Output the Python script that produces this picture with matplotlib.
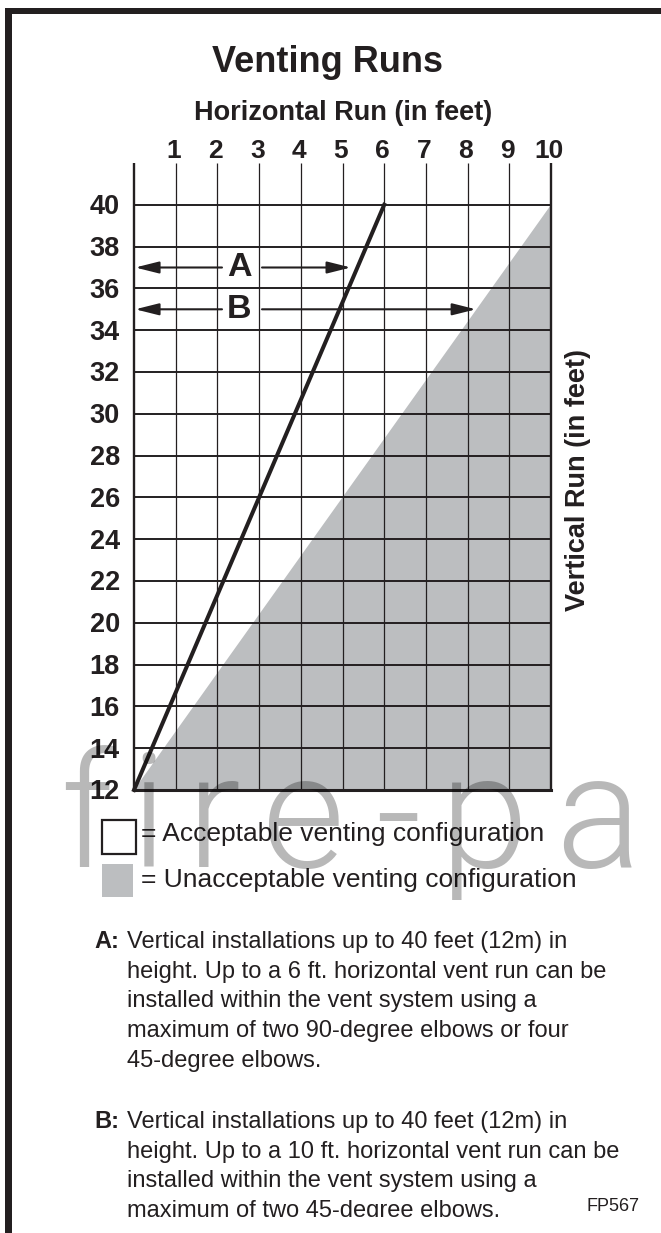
import matplotlib
matplotlib.use('Agg')
import matplotlib.pyplot as plt
from matplotlib.patches import Rectangle, Polygon
from matplotlib.transforms import Bbox

plt.rcParams['font.family'] = ['Liberation Sans', 'DejaVu Sans']

INK = '#231f20'
GRAY = '#bcbec0'

# data
horizontal_run_ft = list(range(0, 11))
horizontal_labels = [str(v) for v in range(1, 11)]
vertical_run_ft = list(range(12, 41, 2))
max_run_x = [0, 6]
max_run_y = [12, 40]
unacceptable_x = [0, 10, 10]
unacceptable_y = [12, 40, 12]
run_labels = ['A', 'B']
run_heights = [37, 35]
run_lengths = [5.2, 8.2]

legend_labels = ['= Acceptable venting configuration',
                 '= Unacceptable venting configuration']

note_a = ['Vertical installations up to 40 feet (12m) in',
          'height. Up to a 6 ft. horizontal vent run can be',
          'installed within the vent system using a',
          'maximum of two 90-degree elbows or four',
          '45-degree elbows.']
note_b = ['Vertical installations up to 40 feet (12m) in',
          'height. Up to a 10 ft. horizontal vent run can be',
          'installed within the vent system using a',
          'maximum of two 45-degree elbows.']

W, H = 661, 1233
fig = plt.figure(figsize=(W / 100, H / 100), dpi=100)

# chart area in pixel terms
X0, X1 = 134, 551
YB, YT = 790, 163
ax = fig.add_axes([X0 / W, 1 - YB / H, (X1 - X0) / W, (YB - YT) / H])
ax.set_xlim(0, 10)
ax.set_ylim(12, 42)
ax.axis('off')

ax.add_patch(Polygon(list(zip(unacceptable_x, unacceptable_y)), closed=True,
                     facecolor=GRAY, edgecolor='none', zorder=1))

for x in horizontal_run_ft:
    outer = x in (horizontal_run_ft[0], horizontal_run_ft[-1])
    ax.plot([x, x], [12, 42], color=INK, lw=1.7 if outer else 0.9,
            solid_capstyle='butt', zorder=2, clip_on=False)
for y in vertical_run_ft:
    ax.plot([0, 10], [y, y], color=INK, lw=2.2 if y == 12 else 1.4,
            solid_capstyle='projecting' if y == 12 else 'butt', zorder=2, clip_on=False)

ax.plot(max_run_x, max_run_y, color=INK, lw=2.9, zorder=3, clip_on=False)

arrow = dict(arrowstyle='-|>,head_length=1.0,head_width=0.25', mutation_scale=14.4,
             color=INK, lw=1.5, shrinkA=0, shrinkB=0)
for lab, yy, xe in zip(run_labels, run_heights, run_lengths):
    ax.annotate('', xy=(0.03, yy), xytext=(2.11, yy), arrowprops=arrow, zorder=4)
    ax.annotate('', xy=(xe, yy), xytext=(3.07, yy), arrowprops=arrow, zorder=4)
    ax.text(2.52, yy, lab, ha='center', va='center', fontsize=24.5,
            fontweight='bold', color=INK, zorder=4)

for x, lab in zip(horizontal_run_ft[1:], horizontal_labels):
    ax.text(x - 0.04, 42.24, lab, ha='center', va='baseline', fontsize=19,
            fontweight='bold', color=INK, clip_on=False)
for y in vertical_run_ft:
    ax.text(-0.34, y - 0.45, str(y), ha='right', va='baseline', fontsize=19.5,
            fontweight='bold', color=INK, clip_on=False)

# overlay in pixel coordinates
ov = fig.add_axes([0, 0, 1, 1])
ov.set_xlim(0, W)
ov.set_ylim(H, 0)
ov.axis('off')

ov.add_patch(Rectangle((5, 8), W - 5, 6, facecolor=INK, edgecolor='none'))
ov.add_patch(Rectangle((5, 8), 7, H - 8, facecolor=INK, edgecolor='none'))

ov.text(327, 72, 'Venting Runs', ha='center', va='baseline', fontsize=26,
        fontweight='bold', color=INK)
ov.text(343, 120, 'Horizontal Run (in feet)', ha='center', va='baseline',
        fontsize=19.5, fontweight='bold', color=INK)
ov.text(578, 480, 'Vertical Run (in feet)', ha='center', va='center', rotation=90,
        fontsize=19.5, fontweight='bold', color=INK)

# legend
ov.add_patch(Rectangle((102, 820), 34, 34, facecolor='white', edgecolor=INK, lw=1.6))
ov.add_patch(Rectangle((102, 864), 31, 33, facecolor=GRAY, edgecolor='none'))
ov.text(141, 841, legend_labels[0], va='baseline', fontsize=19, color=INK)
ov.text(141, 887, legend_labels[1], va='baseline', fontsize=19, color=INK)

# notes
clip = Bbox.from_extents(0, H - 1217, 619, H)
for head, lines, y0 in (('A:', note_a, 948), ('B:', note_b, 1128)):
    ov.text(94, y0, head, va='baseline', fontsize=17, fontweight='bold', color=INK)
    for i, line in enumerate(lines):
        t = ov.text(127, y0 + 29.7 * i, line, va='baseline', fontsize=17, color=INK)
        t.set_clip_box(clip)
        t.set_clip_on(True)
ov.text(639, 1211, 'FP567', ha='right', va='baseline', fontsize=13, color=INK)

# watermark
for ch, x in zip('fire-pa', [60, 130, 187, 262, 375, 440, 555]):
    ov.text(x, 867, ch, ha='left', va='baseline', fontsize=115, family='Roboto',
            fontweight=300, color='black', alpha=0.28, zorder=10)

fig.savefig('out.png', dpi=100, facecolor='white')
